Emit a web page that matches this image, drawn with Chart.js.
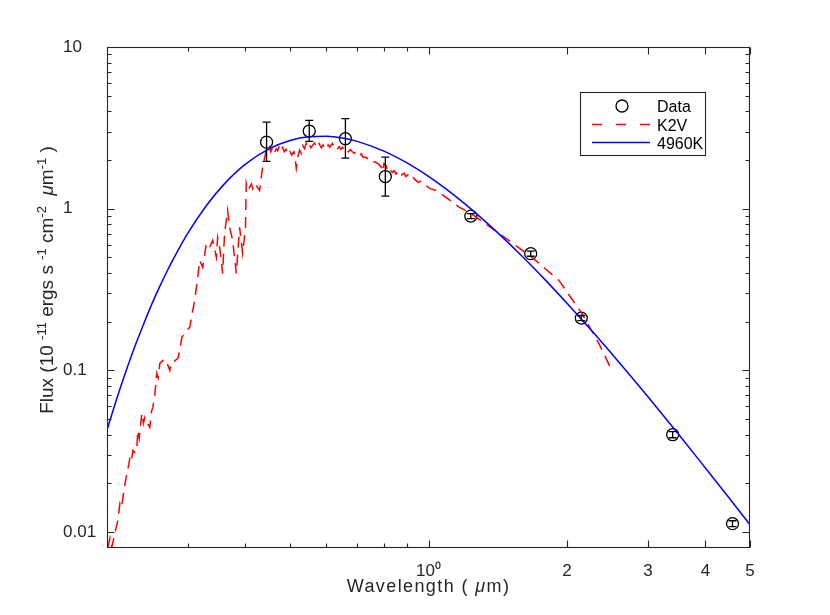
<!DOCTYPE html>
<html><head><meta charset="utf-8">
<script src="https://cdn.jsdelivr.net/npm/chart.js@4.4.0/dist/chart.umd.min.js"></script>
<style>html,body{margin:0;padding:0;background:#fff;}#wrap{width:830px;height:615px;}</style>
</head><body><div id="wrap"><canvas id="c" width="830" height="615"></canvas></div>
<script>
// ---- photometric data points (wavelength µm, flux) ----
const dataWave = [0.4446, 0.5504, 0.6597, 0.8056, 1.236, 1.668, 2.149, 3.395, 4.581];
const dataFlux = [2.58, 3.02, 2.71, 1.58, 0.900, 0.527, 0.2106, 0.0400, 0.01127];
const dataErrLow = [1.961, 2.608, 2.056, 1.196, 0.868, 0.508, 0.2030, 0.0383, 0.01080];
const dataErrHigh = [3.432, 3.517, 3.602, 2.085, 0.932, 0.546, 0.2185, 0.0418, 0.01175];

// ---- K2V template spectrum ----
const k2vWave = [0.2005,0.2030,0.2050,0.2080,0.2112,0.2133,0.2150,0.2166,0.2190,0.2209,0.2230,0.2243,0.2260,0.2277,0.2300,0.2322,0.2334,0.2350,0.2381,0.2400,0.2417,0.2440,0.2478,0.2500,0.2516,0.2540,0.2566,0.2585,0.2605,0.2645,0.2670,0.2698,0.2739,0.2760,0.2780,0.2851,0.2879,0.2908,0.2981,0.3026,0.3072,0.3103,0.3129,0.3150,0.3181,0.3229,0.3289,0.3344,0.3395,0.3458,0.3480,0.3520,0.3568,0.3603,0.3658,0.3695,0.3751,0.3821,0.3885,0.3943,0.4000,0.4016,0.4050,0.4083,0.4120,0.4150,0.4186,0.4230,0.4293,0.4320,0.4358,0.4400,0.4439,0.4470,0.4512,0.4540,0.4580,0.4620,0.4667,0.4700,0.4740,0.4780,0.4816,0.4860,0.4900,0.4950,0.4986,0.5040,0.5100,0.5130,0.5158,0.5200,0.5243,0.5290,0.5330,0.5380,0.5421,0.5460,0.5500,0.5550,0.5596,0.5650,0.5700,0.5750,0.5793,0.5850,0.5900,0.5950,0.5990,0.6050,0.6100,0.6181,0.6240,0.6300,0.6350,0.6400,0.6450,0.6500,0.6560,0.6618,0.6700,0.6760,0.6831,0.6900,0.6950,0.7075,0.7150,0.7200,0.7315,0.7400,0.7500,0.7600,0.7690,0.7800,0.7900,0.7950,0.8000,0.8084,0.8150,0.8200,0.8344,0.8420,0.8500,0.8637,0.8750,0.8850,0.8933,0.9050,0.9150,0.9250,0.9391,0.9500,0.9600,0.9750,0.9871,1.0000,1.0100,1.0250,1.0378,1.0600,1.0907,1.1658,1.2359,1.4234,1.6788,1.9209,2.1547,2.3457,2.4903];
const k2vFlux = [0.0079,0.0092,0.0081,0.00982,0.0118,0.0150,0.0142,0.0164,0.0200,0.0231,0.0260,0.0290,0.0275,0.0320,0.0310,0.0334,0.0425,0.0380,0.0542,0.0470,0.0512,0.0480,0.0444,0.0560,0.0590,0.0700,0.0958,0.0900,0.1105,0.1153,0.1100,0.1121,0.1000,0.1121,0.1121,0.1186,0.1329,0.1600,0.1768,0.1845,0.2350,0.2710,0.3261,0.3776,0.4789,0.4335,0.6100,0.5763,0.6368,0.4996,0.6645,0.5600,0.3981,0.7037,0.9761,0.7665,0.6368,0.3981,0.7665,0.5291,0.760,1.434,1.300,1.354,1.420,1.330,1.434,1.380,1.298,1.500,1.800,2.050,2.294,2.200,2.394,2.250,2.380,2.200,2.350,2.280,2.450,2.300,2.394,2.250,2.330,2.200,2.300,2.150,2.250,2.050,1.780,2.100,2.300,2.200,2.450,2.350,2.534,2.400,2.500,2.380,2.463,2.550,2.450,2.600,2.500,2.380,2.480,2.330,2.360,2.480,2.400,2.534,2.420,2.480,2.360,2.420,2.330,2.400,2.300,2.360,2.250,2.320,2.250,2.200,2.260,2.136,2.180,2.080,2.077,2.020,2.040,1.950,1.933,1.880,1.800,1.700,1.900,1.850,1.720,1.780,1.677,1.720,1.640,1.725,1.620,1.660,1.580,1.630,1.540,1.560,1.496,1.450,1.480,1.400,1.393,1.350,1.330,1.310,1.298,1.250,1.175,1.023,0.935,0.704,0.500,0.360,0.225,0.147,0.103];

// ---- 4960 K blackbody curve ----
const bbWave = [0.2,0.21,0.22,0.23,0.24,0.25,0.26,0.27,0.28,0.3,0.33,0.36,0.4,0.45,0.5,0.55,0.6,0.65,0.7,0.8,0.9,1.0,1.1,1.2,1.3,1.4,1.6,1.8,2.0,2.3,2.6,3.0,3.5,4.0,4.5,5.0];
const bbFlux = [0.0427,0.0668,0.0991,0.141,0.192,0.255,0.327,0.409,0.500,0.708,1.058,1.424,1.884,2.343,2.639,2.783,2.803,2.734,2.608,2.270,1.911,1.582,1.302,1.070,0.881,0.729,0.506,0.359,0.260,0.167,0.1116,0.0687,0.0401,0.0249,0.0163,0.0111];

// ---- axes ----
const xTickValues = [1, 2, 3, 4, 5];
const xTickLabels = ['10⁰', '2', '3', '4', '5'];
const xMinorTicks = [0.3, 0.4, 0.5, 0.6, 0.7, 0.8, 0.9];
const yTickValues = [0.01, 0.1, 1, 10];
const yTickLabels = ['0.01', '0.1', '1', '10'];
const yMinorTicks = [0.02,0.03,0.04,0.05,0.06,0.07,0.08,0.09,0.2,0.3,0.4,0.5,0.6,0.7,0.8,0.9,2,3,4,5,6,7,8,9];
const seriesNames = ['Data', 'K2V', '4960K'];
const xTitleParts = [['Wavelength (', 0], [' ', 0], ['μ', 1], ['m)', 0]];
const yTitleParts = [['Flux (10', 0], [' ', 0], ['-11', 2], [' ergs s ', 0], ['-1', 2], [' cm', 0], ['-2', 2], ['  ', 0], ['μ', 1], ['m', 0], ['-1', 2], [' )', 0]];

const FONT = "'Liberation Sans', Arial, Helvetica, sans-serif";
const AX = '#262626';

const decor = {
  id: 'decor',
  afterDatasetsDraw(chart) {
    const {ctx, scales: {x, y}} = chart;
    ctx.save();
    ctx.strokeStyle = '#000';
    ctx.lineWidth = 1.3;
    for (let i = 0; i < dataWave.length; i++) {
      const px = x.getPixelForValue(dataWave[i]);
      const p1 = y.getPixelForValue(dataErrLow[i]);
      const p2 = y.getPixelForValue(dataErrHigh[i]);
      ctx.beginPath();
      ctx.moveTo(px, p1); ctx.lineTo(px, p2);
      ctx.moveTo(px - 4, p1); ctx.lineTo(px + 4, p1);
      ctx.moveTo(px - 4, p2); ctx.lineTo(px + 4, p2);
      ctx.stroke();
    }
    ctx.restore();
  },
  afterDraw(chart) {
    const {ctx, chartArea: a, scales: {x, y}} = chart;
    ctx.save();
    ctx.strokeStyle = AX;
    ctx.lineWidth = 1.1;
    const L = Math.round(a.left) + 0.5, R = Math.round(a.right) - 0.5;
    const T = Math.round(a.top) + 0.5, B = Math.round(a.bottom) - 0.5;
    ctx.beginPath();
    const xt = (v, len) => {
      const p = Math.round(x.getPixelForValue(v)) + 0.5;
      ctx.moveTo(p, B); ctx.lineTo(p, B - len);
      ctx.moveTo(p, T); ctx.lineTo(p, T + len);
    };
    const yt = (v, len) => {
      const p = Math.round(y.getPixelForValue(v)) + 0.5;
      ctx.moveTo(L, p); ctx.lineTo(L + len, p);
      ctx.moveTo(R, p); ctx.lineTo(R - len, p);
    };
    xTickValues.forEach(v => xt(v, 7));
    xMinorTicks.forEach(v => xt(v, 4));
    yTickValues.forEach(v => yt(v, 7));
    yMinorTicks.forEach(v => yt(v, 4));
    ctx.stroke();
    ctx.strokeRect(L, T, R - L, B - T);

    // x title
    ctx.fillStyle = AX;
    ctx.textBaseline = 'alphabetic';
    try { ctx.letterSpacing = '1.4px'; } catch (e) {}
    const xf = (it) => (it ? 'italic ' : '') + '18px ' + FONT;
    let tw = 0;
    xTitleParts.forEach(([t, it]) => { ctx.font = xf(it); tw += ctx.measureText(t).width; });
    let cx = (a.left + a.right) / 2 - tw / 2;
    xTitleParts.forEach(([t, it]) => { ctx.font = xf(it); ctx.fillText(t, cx, 592); cx += ctx.measureText(t).width; });
    try { ctx.letterSpacing = '0px'; } catch (e) {}

    // y title (rotated)
    const yf = (k) => (k === 1 ? 'italic 19px ' : k === 2 ? '13px ' : '19px ') + FONT;
    let th = 0;
    yTitleParts.forEach(([t, k]) => { ctx.font = yf(k); th += ctx.measureText(t).width; });
    ctx.save();
    ctx.translate(53, 280);
    ctx.rotate(-Math.PI / 2);
    let cy = -th / 2;
    yTitleParts.forEach(([t, k]) => { ctx.font = yf(k); ctx.fillText(t, cy, k === 2 ? -7 : 0); cy += ctx.measureText(t).width; });
    ctx.restore();

    // legend
    ctx.fillStyle = '#fff';
    ctx.fillRect(580.5, 92.5, 125, 63);
    ctx.strokeStyle = AX;
    ctx.lineWidth = 1.1;
    ctx.strokeRect(580.5, 92.5, 125, 63);
    ctx.strokeStyle = '#000';
    ctx.lineWidth = 1.3;
    ctx.beginPath(); ctx.arc(622, 106, 6, 0, Math.PI * 2); ctx.stroke();
    ctx.strokeStyle = '#ff0000';
    ctx.lineWidth = 1.5;
    ctx.setLineDash([10, 14]);
    ctx.beginPath(); ctx.moveTo(592, 124.5); ctx.lineTo(650, 124.5); ctx.stroke();
    ctx.setLineDash([]);
    ctx.strokeStyle = '#0000ff';
    ctx.beginPath(); ctx.moveTo(592, 142.5); ctx.lineTo(650, 142.5); ctx.stroke();
    ctx.fillStyle = '#000';
    ctx.font = '16px ' + FONT;
    ctx.fillText(seriesNames[0], 657, 112);
    ctx.fillText(seriesNames[1], 657, 131);
    ctx.fillText(seriesNames[2], 657, 149);
    ctx.restore();
  }
};

new Chart(document.getElementById('c'), {
  data: {
    datasets: [
      { type: 'scatter', label: seriesNames[0], order: 2,
        data: dataWave.map((w, i) => ({x: w, y: dataFlux[i]})),
        pointStyle: 'circle', pointRadius: 6, pointBorderWidth: 1.3,
        borderColor: '#000', backgroundColor: 'rgba(0,0,0,0)', showLine: false },
      { type: 'line', label: seriesNames[1], order: 1,
        data: k2vWave.map((w, i) => ({x: w, y: k2vFlux[i]})),
        borderColor: '#ff0000', borderWidth: 1.5, borderDash: [11, 7],
        pointRadius: 0, tension: 0, fill: false },
      { type: 'line', label: seriesNames[2], order: 0,
        data: bbWave.map((w, i) => ({x: w, y: bbFlux[i]})),
        borderColor: '#0000ff', borderWidth: 1.5, cubicInterpolationMode: 'monotone',
        pointRadius: 0, fill: false }
    ]
  },
  options: {
    responsive: false,
    animation: false,
    layout: { padding: { left: 63, right: 80, top: 47, bottom: 0 } },
    plugins: { legend: { display: false }, tooltip: { enabled: false } },
    scales: {
      x: {
        type: 'logarithmic', position: 'bottom', min: 0.2, max: 5,
        grid: { display: false, drawTicks: false }, border: { display: false },
        ticks: { autoSkip: false, maxRotation: 0, minRotation: 0, padding: 13,
          color: AX, font: { family: FONT, size: 17 },
          callback: (v) => { const i = xTickValues.indexOf(v); return i >= 0 ? xTickLabels[i] : ''; } },
        afterBuildTicks: (s) => { s.ticks = xTickValues.map(v => ({value: v})); },
        afterFit: (s) => { s.height = 67; }
      },
      y: {
        type: 'logarithmic', position: 'left', min: 0.00797, max: 10,
        grid: { display: false, drawTicks: false }, border: { display: false },
        ticks: { autoSkip: false, crossAlign: 'far', padding: 0,
          color: AX, font: { family: FONT, size: 17 },
          callback: (v) => { const i = yTickValues.indexOf(v); return i >= 0 ? yTickLabels[i] : ''; } },
        afterBuildTicks: (s) => { s.ticks = yTickValues.map(v => ({value: v})); },
        afterFit: (s) => { s.width = 44; }
      }
    }
  },
  plugins: [decor]
});
</script>
</body></html>
